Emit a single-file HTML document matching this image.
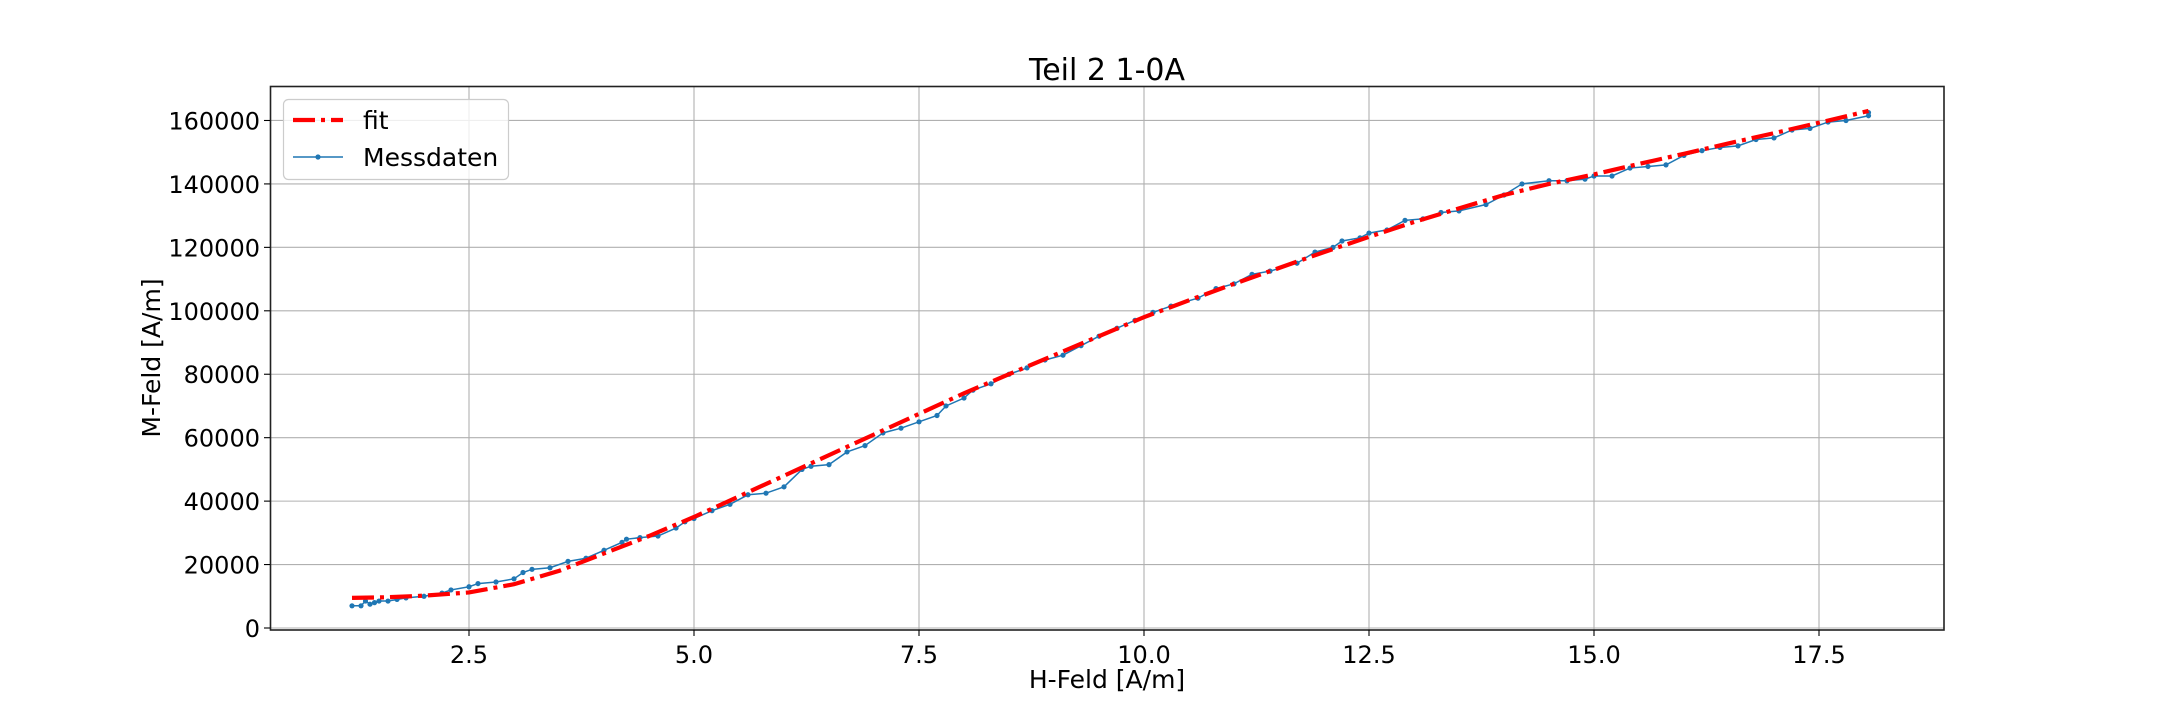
<!DOCTYPE html>
<html><head><meta charset="utf-8"><style>
html,body{margin:0;padding:0;background:#fff;}
svg text{font-family:"DejaVu Sans","Liberation Sans",sans-serif;fill:#000;}
</style></head><body>
<svg id="chart" width="2160" height="720" xmlns="http://www.w3.org/2000/svg">
<rect x="0" y="0" width="2160" height="720" fill="#fff"/>
<g id="grid"></g>
<g id="series"></g>
<rect x="270.5" y="86.5" width="1673.5" height="543.5" fill="none" stroke="#222" stroke-width="1.6"/>
<g id="ticks"></g>
<text x="1107" y="80" font-size="30" text-anchor="middle">Teil 2 1-0A</text>
<text x="1107" y="688" font-size="25" text-anchor="middle">H-Feld [A/m]</text>
<text x="0" y="0" font-size="25" text-anchor="middle" transform="translate(160,358) rotate(-90)">M-Feld [A/m]</text>
<g>
<rect x="283.5" y="99.5" width="225" height="80" rx="5" fill="#fff" fill-opacity="0.8" stroke="#ccc" stroke-width="1.2"/>
<line x1="293" y1="120" x2="343" y2="120" stroke="#ff0000" stroke-width="4.2" stroke-dasharray="22,6,4,6"/>
<text x="363" y="129" font-size="25">fit</text>
<line x1="293" y1="157" x2="343" y2="157" stroke="#1f77b4" stroke-width="1.5"/>
<circle cx="318" cy="157" r="2.6" fill="#1f77b4"/>
<text x="363" y="166" font-size="25">Messdaten</text>
</g>
</svg>
<script>
const xTicks=[2.5,5.0,7.5,10.0,12.5,15.0,17.5];
const xTickLabels=["2.5","5.0","7.5","10.0","12.5","15.0","17.5"];
const yTicks=[0,20000,40000,60000,80000,100000,120000,140000,160000];
const yTickLabels=["0","20000","40000","60000","80000","100000","120000","140000","160000"];
const measH=[1.2,1.3,1.35,1.4,1.45,1.5,1.6,1.7,1.8,2.0,2.2,2.3,2.5,2.6,2.8,3.0,3.1,3.2,3.4,3.6,3.8,4.0,4.2,4.25,4.4,4.6,4.8,4.9,5.0,5.2,5.4,5.6,5.8,6.0,6.2,6.3,6.5,6.7,6.9,7.1,7.3,7.5,7.7,7.8,8.0,8.1,8.3,8.5,8.7,8.9,9.1,9.3,9.5,9.7,9.9,10.1,10.3,10.6,10.8,11.0,11.2,11.4,11.7,11.9,12.1,12.2,12.4,12.5,12.7,12.9,13.1,13.3,13.5,13.8,14.0,14.2,14.5,14.7,14.9,15.0,15.2,15.4,15.6,15.8,16.0,16.2,16.4,16.6,16.8,17.0,17.2,17.4,17.6,17.8,18.05,18.05];
const measM=[7000,7000,8500,7500,8000,8500,8500,9000,9500,10000,11000,12000,13000,14000,14500,15500,17500,18500,19000,21000,22000,24500,27000,28000,28500,29000,31500,33500,34500,37000,39000,42000,42500,44500,50000,51000,51500,55500,57500,61500,63000,65000,67000,70000,72500,75000,77000,80000,82000,84500,86000,89000,92000,94500,97000,99500,101500,104000,107000,108500,111500,112500,115000,118500,120000,122000,123000,124500,125500,128500,129000,131000,131500,133500,136500,140000,141000,141000,141500,142500,142500,145000,145500,146000,149000,150500,151500,152000,154000,154500,157000,157500,159500,160000,161500,162500];
const fitH=[1.2,1.6,2.0,2.5,3.0,3.5,4.0,4.5,5.0,5.5,6.0,6.5,7.0,7.5,8.0,8.5,9.0,9.5,10.0,10.5,11.0,11.5,12.0,12.5,13.0,13.5,14.0,14.5,15.0,15.5,16.0,16.5,17.0,17.5,18.05];
const fitM=[9500,9700,10200,11200,13800,18000,23500,29000,35000,41500,48000,54500,61000,67500,74000,80000,86000,92000,98000,103300,108500,113500,118500,123300,128000,132300,136500,140000,143000,146300,149500,152800,156000,159300,163000];

const NS="http://www.w3.org/2000/svg";
const X=v=>244+v*90;
const Y=v=>628-v*63.44/20000;
function mk(tag,attrs,parent){const e=document.createElementNS(NS,tag);for(const k in attrs)e.setAttribute(k,attrs[k]);parent.appendChild(e);return e;}
const grid=document.getElementById('grid'),ticks=document.getElementById('ticks'),series=document.getElementById('series');
xTicks.forEach((t,i)=>{
 const g=mk('line',{x1:X(t),x2:X(t),y1:86,y2:630,stroke:'#b0b0b0','stroke-width':1.1},grid);
 
 
 const tk=mk('line',{x1:X(t),x2:X(t),y1:630,y2:636,stroke:'#000','stroke-width':1.1},ticks);
 
 
 const tx=mk('text',{x:X(t),y:663,'font-size':24,'text-anchor':'middle'},ticks);
 tx.textContent=xTickLabels[i];
 
 
});
yTicks.forEach((t,i)=>{
 const g=mk('line',{x1:270,x2:1944,y1:Y(t),y2:Y(t),stroke:'#b0b0b0','stroke-width':1.1},grid);
 
 
 const tk=mk('line',{x1:264,x2:270,y1:Y(t),y2:Y(t),stroke:'#000','stroke-width':1.1},ticks);
 
 
 const tx=mk('text',{x:260,y:Y(t)+9,'font-size':24,'text-anchor':'end'},ticks);
 tx.textContent=yTickLabels[i];
 
 
});
const mp=mk('polyline',{points:measH.map((h,i)=>X(h)+','+Y(measM[i])).join(' '),fill:'none',stroke:'#1f77b4','stroke-width':1.5},series);


measH.forEach((h,i)=>{
 const c=mk('circle',{cx:X(h),cy:Y(measM[i]),r:2.6,fill:'#1f77b4'},series);
 
 
});
const fp=mk('polyline',{points:fitH.map((h,i)=>X(h)+','+Y(fitM[i])).join(' '),fill:'none',stroke:'#ff0000','stroke-width':4.2,'stroke-dasharray':'22,6,4,6'},series);


</script>
</body></html>
